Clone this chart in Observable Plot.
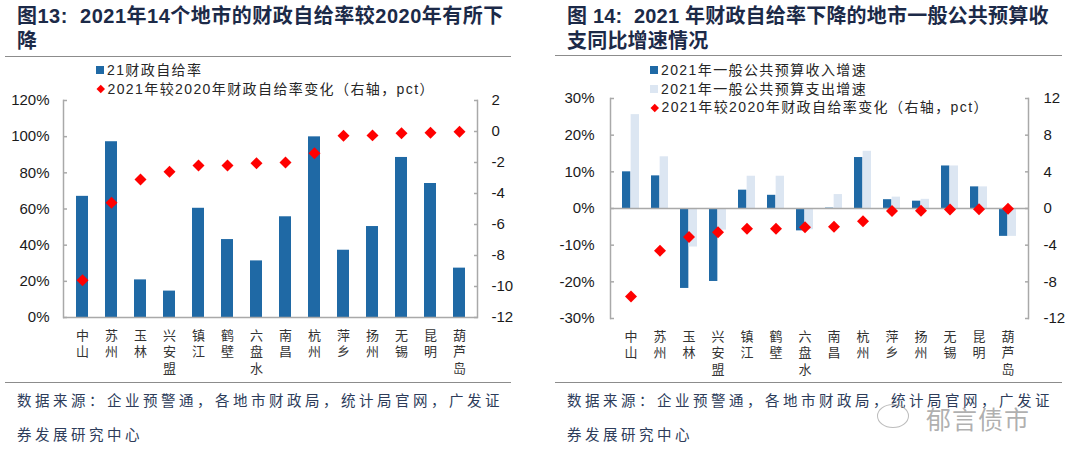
<!DOCTYPE html>
<html><head><meta charset="utf-8">
<script src="https://cdn.jsdelivr.net/npm/d3@7"></script>
<script src="https://cdn.jsdelivr.net/npm/@observablehq/plot@0.6"></script>
<style>
html,body{margin:0;padding:0;background:#fff;}
#root{position:relative;width:1080px;height:461px;overflow:hidden;background:#fff;font-family:"Liberation Sans","Noto Sans CJK SC",sans-serif;}
.title{position:absolute;font-family:"Liberation Sans","Noto Sans CJK SC",sans-serif;font-weight:bold;font-size:20px;line-height:25px;color:#1c2a48;letter-spacing:0.5px;white-space:nowrap;}
.rule{position:absolute;height:0;border-top:1.5px solid #8c8c8c;}
.source{position:absolute;font-family:"Noto Sans CJK SC",sans-serif;font-size:14.5px;line-height:34px;color:#2d3c5a;letter-spacing:3.5px;white-space:nowrap;}
.legend{position:absolute;font-family:"Liberation Sans","Noto Sans CJK SC",sans-serif;font-size:14px;color:#262626;letter-spacing:1.4px;white-space:nowrap;}
.legend div{height:18.5px;line-height:18.5px;display:flex;align-items:center;}
.sw{display:inline-block;width:8px;height:8px;margin-right:3px;}
.dm{display:inline-block;width:5.5px;height:5.5px;background:#ff0000;transform:rotate(45deg);margin:0 4px 0 2px;}
.chart{position:absolute;top:90px;}
.wm{position:absolute;left:926px;top:400px;font-family:"Noto Sans CJK SC",sans-serif;font-size:25px;color:rgba(150,150,150,0.75);letter-spacing:1px;}
.wmicon{position:absolute;left:877px;top:404px;width:30px;height:22px;border:1.5px solid rgba(160,160,160,0.7);border-radius:50%;}
</style></head>
<body><div id="root">
<div class="title" style="left:17px;top:4px;">图13:&nbsp; 2021年14个地市的财政自给率较2020年有所下<br>降</div>
<div class="rule" style="left:5px;top:56px;width:506px;"></div>
<div class="title" style="left:567px;top:4px;letter-spacing:0.2px;">图 14:&nbsp; 2021 年财政自给率下降的地市一般公共预算收<br>支同比增速情况</div>
<div class="rule" style="left:555px;top:55px;width:507px;"></div>
<div class="legend" id="leg1" style="left:96px;top:61px;"></div>
<div class="legend" id="leg2" style="left:650px;top:61px;"></div>
<div class="chart" id="c1" style="left:0px;"></div>
<div class="chart" id="c2" style="left:540px;"></div>
<div class="rule" style="left:5px;top:382px;width:506px;"></div>
<div class="rule" style="left:555px;top:382px;width:507px;"></div>
<div class="source" style="left:17px;top:383px;">数据来源：企业预警通，各地市财政局，统计局官网，广发证<br>券发展研究中心</div>
<div class="source" style="left:567px;top:383px;">数据来源：企业预警通，各地市财政局，统计局官网，广发证<br>券发展研究中心</div>
<div class="wmicon"></div>
<div class="wm">郁言债市</div>
</div>
<script>
// ---- data ----
const cities = ["中山","苏州","玉林","兴安盟","镇江","鹤壁","六盘水","南昌","杭州","萍乡","扬州","无锡","昆明","葫芦岛"];
const selfSufficiency2021 = [67.0, 97.2, 20.8, 14.6, 60.4, 43.1, 31.3, 55.7, 99.9, 37.2, 50.3, 88.5, 74.1, 27.3];
const ratioChangePct = [-9.6, -4.6, -3.1, -2.6, -2.2, -2.2, -2.05, -2.0, -1.4, -0.28, -0.25, -0.12, -0.08, -0.02];
const revenueGrowth = [10.0, 8.9, -21.8, -19.9, 5.0, 3.6, -6.1, 0.1, 13.9, 2.4, 2.0, 11.6, 5.9, -7.6];
const expenditureGrowth = [25.6, 14.1, -10.5, -5.9, 8.8, 8.8, -5.8, 3.8, 15.6, 3.1, 2.5, 11.6, 5.9, -7.6];
const leftTicks1 = [0, 20, 40, 60, 80, 100, 120];
const rightTicks1 = [-12, -10, -8, -6, -4, -2, 0, 2];
const leftTicks2 = [-30, -20, -10, 0, 10, 20, 30];
const rightTicks2 = [-12, -8, -4, 0, 4, 8, 12];
const legend1 = ["21财政自给率", "2021年较2020年财政自给率变化（右轴，pct）"];
const legend2 = ["2021年一般公共预算收入增速", "2021年一般公共预算支出增速", "2021年较2020年财政自给率变化（右轴，pct）"];

const DARK = "#1f69a5", LIGHT = "#dce6f2", RED = "#ff0000", AXIS = "#a9a9a9";

const rows = cities.map((c, i) => ({city: c, ratio: selfSufficiency2021[i], change: ratioChangePct[i], rev: revenueGrowth[i], exp: expenditureGrowth[i]}));
const vert = d => [...d].join("\n");

document.getElementById("leg1").innerHTML =
  `<div><span class="sw" style="background:${DARK}"></span>${legend1[0]}</div>` +
  `<div><span class="dm"></span>${legend1[1]}</div>`;
document.getElementById("leg2").innerHTML =
  `<div><span class="sw" style="background:${DARK}"></span>${legend2[0]}</div>` +
  `<div><span class="sw" style="background:${LIGHT}"></span>${legend2[1]}</div>` +
  `<div><span class="dm"></span>${legend2[2]}</div>`;

const baseStyle = {fontFamily: '"Liberation Sans","Noto Sans CJK SC",sans-serif', color: "#1a1a1a", background: "transparent", overflow: "visible"};

function axes(lt, rt, toL, padL, padR) {
  return [
    Plot.frame({anchor: "left", stroke: AXIS, strokeWidth: 1.5}),
    Plot.frame({anchor: "right", stroke: AXIS, strokeWidth: 1.5}),
    Plot.axisY(lt, {anchor: "left", label: null, tickSize: -4, stroke: AXIS, strokeWidth: 1.5, tickFormat: () => ""}),
    Plot.axisY(lt, {anchor: "left", label: null, tickSize: 0, tickPadding: padL, fontSize: 15, tickFormat: d => d + "%", fill: "#1a1a1a"}),
    Plot.axisY(rt.map(toL), {anchor: "right", label: null, tickSize: -4, stroke: AXIS, strokeWidth: 1.5, tickFormat: () => ""}),
    Plot.axisY(rt.map(toL), {anchor: "right", label: null, tickSize: 0, tickPadding: padR, fontSize: 15, tickFormat: d => String(Math.round(toL.invert(d))), fill: "#1a1a1a"}),
    Plot.axisX({anchor: "bottom", label: null, tickSize: 0, tickPadding: 11, fontSize: 13, lineHeight: 1.25, tickFormat: vert, fill: "#333"})
  ];
}

// ---- chart 1: self-sufficiency ratio (left axis) and change (right axis) ----
const toLeft1 = d3.scaleLinear([-12, 2], [0, 120]);
const c1 = Plot.plot({
  width: 540, height: 300,
  marginLeft: 63, marginRight: 63, marginTop: 10, marginBottom: 73,
  style: baseStyle,
  x: {type: "band", domain: cities, paddingInner: 0.6, paddingOuter: 0.3, label: null},
  y: {domain: [0, 120], label: null},
  marks: [
    Plot.barY(rows, {x: "city", y: "ratio", fill: DARK}),
    Plot.ruleY([0], {stroke: AXIS, strokeWidth: 1.5}),
    ...axes(leftTicks1, rightTicks1, toLeft1, 14, 14),
    Plot.dot(rows, {x: "city", y: d => toLeft1(d.change), symbol: "diamond2", r: 5.4, fill: RED, stroke: null})
  ]
});
document.getElementById("c1").appendChild(c1);

// ---- chart 2: revenue / expenditure growth (left axis) and change (right axis) ----
const toLeft2 = d3.scaleLinear([-12, 12], [-30, 30]);
const c2 = Plot.plot({
  width: 540, height: 300,
  marginLeft: 70, marginRight: 52, marginTop: 8, marginBottom: 72,
  style: baseStyle,
  x: {type: "band", domain: cities, paddingInner: 0.42, paddingOuter: 0.21, label: null},
  y: {domain: [-30, 30], label: null},
  marks: [
    Plot.barY(rows, {x: "city", y: "rev", fill: DARK, insetRight: 8.65}),
    Plot.barY(rows, {x: "city", y: "exp", fill: LIGHT, insetLeft: 8.65}),
    Plot.ruleY([0], {stroke: AXIS, strokeWidth: 1.5}),
    ...axes(leftTicks2, rightTicks2, toLeft2, 16, 15),
    Plot.dot(rows, {x: "city", y: d => toLeft2(d.change), symbol: "diamond2", r: 5.4, fill: RED, stroke: null})
  ]
});
document.getElementById("c2").appendChild(c2);
</script>
</body></html>
